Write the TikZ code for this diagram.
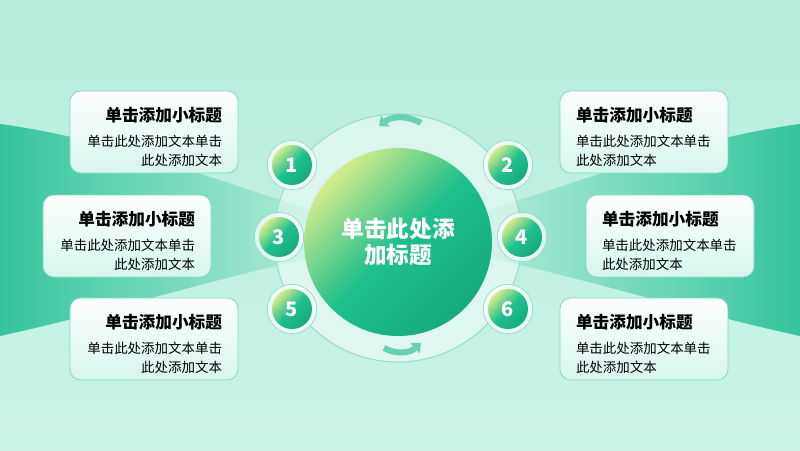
\documentclass[tikz,border=0pt]{standalone}
\usepackage{fontspec}
\setmainfont{Noto Sans CJK SC}
\usepackage{tikz}
\usetikzlibrary{shapes,arrows.meta,positioning,fit,backgrounds}
\definecolor{bgtop}{RGB}{182, 237, 220}
\definecolor{bgbot}{RGB}{202, 244, 232}
\definecolor{band}{RGB}{52, 196, 156}
\definecolor{ringline}{RGB}{150, 224, 200}
\definecolor{lightg}{RGB}{214, 236, 140}
\definecolor{midg}{RGB}{30, 192, 140}
\definecolor{darkg}{RGB}{22, 170, 126}
\definecolor{cardbot}{RGB}{214, 246, 237}
\definecolor{cardline}{RGB}{128, 218, 192}
\definecolor{arr}{RGB}{52, 194, 154}
\tikzstyle{card} = [rectangle, rounded corners=8pt, draw=cardline, line width=0.6pt, top color=white, bottom color=cardbot, text=black, minimum width=126pt, minimum height=61.5pt, text width=102pt, inner xsep=12pt, font=\fontsize{10.1}{14.3}\selectfont]
\tikzstyle{halo} = [circle, draw=ringline, line width=0.6pt, fill=white, fill opacity=0.7, minimum size=37pt, inner sep=0pt]
\tikzstyle{num} = [circle, top color=lightg, bottom color=darkg, middle color=midg, shading angle=45, text=white, font=\bfseries\fontsize{15}{17}\selectfont, minimum size=30pt, inner sep=0pt]
\tikzstyle{hub} = [circle, top color=lightg, bottom color=darkg, middle color=midg, shading angle=45, text=white, align=center, font=\bfseries\fontsize{17}{19.5}\selectfont, minimum size=141pt, inner sep=0pt]
\tikzstyle{tedge} = [line width=4.5pt, draw=arr, -{Triangle[length=6pt,width=10pt]}]
\newcommand{\cardtitle}[1]{{\bfseries\fontsize{12.5}{15}\selectfont\rule{0pt}{18pt}#1}}

\begin{document}
\begin{tikzpicture}[x=0.75pt, y=-0.75pt]

% background =============================
\useasboundingbox (0,0) rectangle (800,450);
\shade[top color=bgtop, bottom color=bgbot] (0,0) rectangle (800,450);
\shade[left color=band, right color=bgtop] (0,124) .. controls (120,140) and (240,190) .. (330,215)
  -- (330,255) .. controls (240,270) and (120,310) .. (0,336) -- cycle;
\shade[right color=band, left color=bgtop] (800,124) .. controls (680,140) and (560,190) .. (470,215)
  -- (470,255) .. controls (560,270) and (680,310) .. (800,336) -- cycle;

% ring and hub
\node[circle, draw=ringline, line width=0.8pt, fill=white, fill opacity=0.45, minimum size=186pt] (ring) at (398,238) {};
\node[hub] (hub) at (398,242) {单击此处添\\加标题};

% arrows on the ring
\coordinate (a1) at (421,123);
\coordinate (a2) at (379,126);
\coordinate (a3) at (384,348);
\coordinate (a4) at (421,343);
\path[tedge, draw=arr!75] (a1) .. controls (407,115) and (392,116) .. (a2);
\path[tedge, draw=arr!75] (a3) .. controls (397,355) and (410,353) .. (a4);

% numbered circles
\node[halo] (h1) at (292,165) {};
\node[halo] (h2) at (508,165) {};
\node[halo] (h3) at (279,237) {};
\node[halo] (h4) at (522,237) {};
\node[halo] (h5) at (292,309) {};
\node[halo] (h6) at (508,309) {};
\node[num] (n1) at (h1) {1};
\node[num] (n2) at (h2) {2};
\node[num] (n3) at (h3) {3};
\node[num] (n4) at (h4) {4};
\node[num] (n5) at (h5) {5};
\node[num] (n6) at (h6) {6};

% cards =============================
\node[card, align=right] (box1) at (154,132) {\cardtitle{单击添加小标题}\\[4pt]单击此处添加文本单击\\此处添加文本};
\node[card, align=right] (box3) at (127,236) {\cardtitle{单击添加小标题}\\[4pt]单击此处添加文本单击\\此处添加文本};
\node[card, align=right] (box5) at (154,339) {\cardtitle{单击添加小标题}\\[4pt]单击此处添加文本单击\\此处添加文本};
\node[card, align=left] (box2) at (644,132) {\cardtitle{单击添加小标题}\\[4pt]单击此处添加文本单击\\此处添加文本};
\node[card, align=left] (box4) at (670,236) {\cardtitle{单击添加小标题}\\[4pt]单击此处添加文本单击\\此处添加文本};
\node[card, align=left] (box6) at (644,339) {\cardtitle{单击添加小标题}\\[4pt]单击此处添加文本单击\\此处添加文本};

\end{tikzpicture}
\end{document}
